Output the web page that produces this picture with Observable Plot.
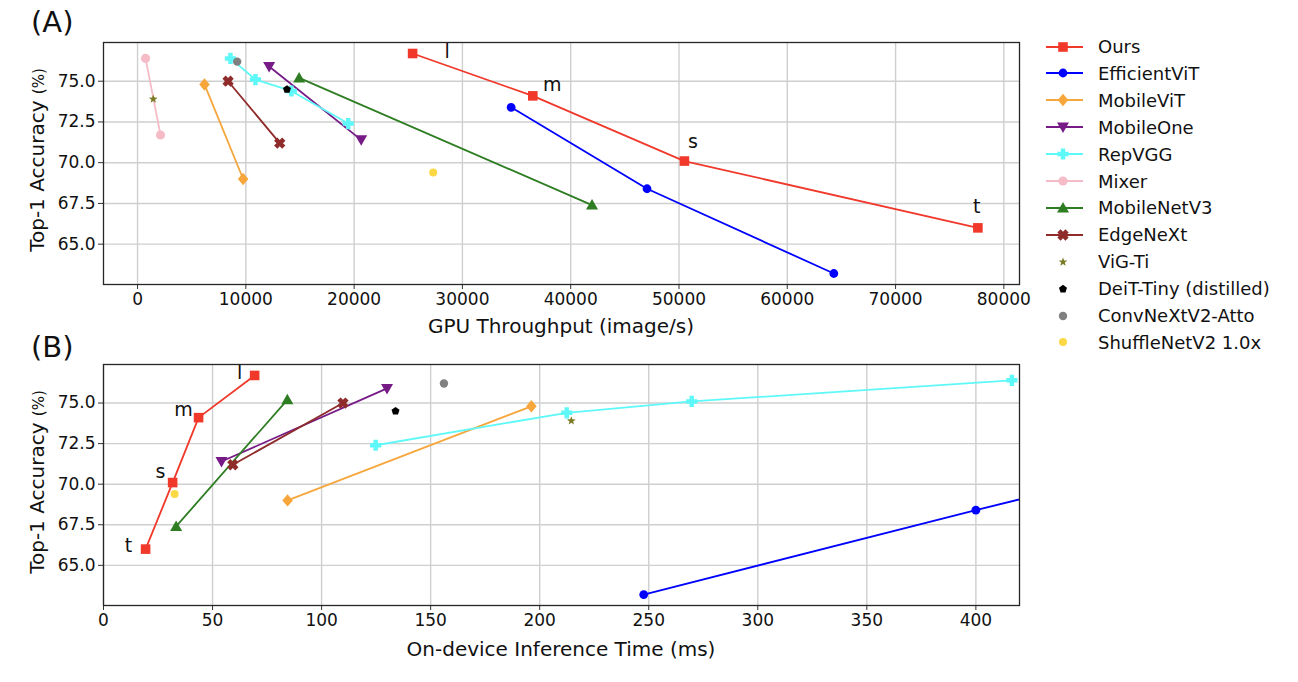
<!DOCTYPE html>
<html>
<head>
<meta charset="utf-8">
<script src="https://cdn.jsdelivr.net/npm/d3@7"></script>
<script src="https://cdn.jsdelivr.net/npm/@observablehq/plot@0.6"></script>
<style>
  body { margin: 0; background: #fff; font-family: "DejaVu Sans", sans-serif; color: #111; }
  #fig { position: relative; width: 1298px; height: 682px; overflow: hidden; background: #fff; }
  .abs { position: absolute; white-space: nowrap; }
  .panel-tag { font-size: 29px; }
  .xtitle { font-size: 20px; transform: translate(-50%, -50%); }
  .ytitle { font-size: 20px; transform: translate(-50%, -50%) rotate(-90deg); }
  .ytitle span { font-size: 15px; }
  .leg-row { position: absolute; left: 1040px; height: 26px; display: flex; align-items: center; font-size: 18px; }
  .leg-row svg { width: 58px; height: 26px; }
</style>
</head>
<body>
<div id="fig"></div>
<script>
// ---- Data: Top-1 accuracy (%) vs GPU throughput (image/s) and on-device latency (ms) ----
const oursSize = ["l", "m", "s", "t"];
const oursAcc = [76.7, 74.1, 70.1, 66.0];
const oursGpu = [25400, 36500, 50500, 77600];
const oursMs = [69.3, 43.6, 31.7, 19.3];
// where the size letters are written (data coordinates)
const oursLabelGpu = [28600, 38300, 51300, 77500];
const oursLabelAccA = [76.8, 74.8, 71.3, 67.3];
const oursLabelMs = [62.4, 36.7, 26.1, 11.5];
const oursLabelAccB = [76.85, 74.6, 70.75, 66.2];

const effAcc = [73.4, 68.4, 63.2];
const effGpu = [34500, 47050, 64300];
const effMs = [550, 400, 247.7];

const mvitAcc = [74.8, 69.0];
const mvitGpu = [6180, 9750];
const mvitMs = [196.2, 84.4];

const moneAcc = [75.9, 71.4];
const moneGpu = [12150, 20650];
const moneMs = [130.0, 54.1];

const repAcc = [76.4, 75.1, 74.4, 72.4];
const repGpu = [8580, 10890, 14200, 19460];
const repMs = [416.5, 269.7, 212.4, 124.8];

const mixAcc = [76.4, 71.7];
const mixGpu = [740, 2120];

const mnv3Acc = [75.2, 67.4];
const mnv3Gpu = [14920, 41970];
const mnv3Ms = [84.3, 33.3];

const edgeAcc = [75.0, 71.2];
const edgeGpu = [8360, 13130];
const edgeMs = [109.8, 59.3];

const vigAcc = [73.9], vigGpu = [1450], vigMs = [214.5];
const deitAcc = [74.5], deitGpu = [13800], deitMs = [133.9];
const cnxAcc = [76.2], cnxGpu = [9200], cnxMs = [156.1];
const shufAcc = [69.4], shufGpu = [27300], shufMs = [32.6];

const gpuTicks = [0, 10000, 20000, 30000, 40000, 50000, 60000, 70000, 80000];
const msTicks = [0, 50, 100, 150, 200, 250, 300, 350, 400];
const accTicks = [65.0, 67.5, 70.0, 72.5, 75.0];

// ---- Marker shapes (size -> radius) ----
const mk = f => ({draw(c, size) { f(c, Math.sqrt(size / Math.PI)); }});
const poly = (c, pts) => { c.moveTo(pts[0][0], pts[0][1]); for (const p of pts.slice(1)) c.lineTo(p[0], p[1]); c.closePath(); };
const symSquare = mk((c, r) => c.rect(-r, -r, 2 * r, 2 * r));
const symCircle = mk((c, r) => { c.moveTo(r, 0); c.arc(0, 0, r, 0, 2 * Math.PI); });
const symDiamond = mk((c, r) => poly(c, [[0, -r], [r * 0.85, 0], [0, r], [-r * 0.85, 0]]));
const symTriDown = mk((c, r) => poly(c, [[-r, -r * 0.75], [r, -r * 0.75], [0, r]]));
const symTriUp = mk((c, r) => poly(c, [[-r, r * 0.75], [r, r * 0.75], [0, -r]]));
const plusPts = r => { const t = r * 0.4; return [[-t, -r], [t, -r], [t, -t], [r, -t], [r, t], [t, t], [t, r], [-t, r], [-t, t], [-r, t], [-r, -t], [-t, -t]]; };
const rot = (pts, a) => pts.map(([x, y]) => [x * Math.cos(a) - y * Math.sin(a), x * Math.sin(a) + y * Math.cos(a)]);
const symPlus = mk((c, r) => poly(c, plusPts(r)));
const symX = mk((c, r) => poly(c, rot(plusPts(r * 1.1), Math.PI / 4)));
const symStar = mk((c, r) => poly(c, d3.range(10).map(i => { const a = -Math.PI / 2 + i * Math.PI / 5, rr = i % 2 ? r * 0.42 : r; return [rr * Math.cos(a), rr * Math.sin(a)]; })));
const symPentagon = mk((c, r) => poly(c, d3.range(5).map(i => { const a = -Math.PI / 2 + i * 2 * Math.PI / 5; return [r * Math.cos(a), r * Math.sin(a)]; })));

// ---- Series table ----
const series = [
  {name: "Ours", acc: oursAcc, gpu: oursGpu, ms: oursMs, color: "#f0382b", symbol: symSquare, r: 4.8, line: true},
  {name: "EfficientViT", acc: effAcc, gpu: effGpu, ms: effMs, color: "#0000ff", symbol: symCircle, r: 4.4, line: true},
  {name: "MobileViT", acc: mvitAcc, gpu: mvitGpu, ms: mvitMs, color: "#f6a63b", symbol: symDiamond, r: 6.2, line: true},
  {name: "MobileOne", acc: moneAcc, gpu: moneGpu, ms: moneMs, color: "#761a86", symbol: symTriDown, r: 6.0, line: true},
  {name: "RepVGG", acc: repAcc, gpu: repGpu, ms: repMs, color: "#5ff8f8", symbol: symPlus, r: 5.6, line: true},
  {name: "Mixer", acc: mixAcc, gpu: mixGpu, ms: null, color: "#f5bcc7", symbol: symCircle, r: 4.6, line: true},
  {name: "MobileNetV3", acc: mnv3Acc, gpu: mnv3Gpu, ms: mnv3Ms, color: "#2e7d23", symbol: symTriUp, r: 6.0, line: true},
  {name: "EdgeNeXt", acc: edgeAcc, gpu: edgeGpu, ms: edgeMs, color: "#8f2b2b", symbol: symX, r: 5.2, line: true},
  {name: "ViG-Ti", acc: vigAcc, gpu: vigGpu, ms: vigMs, color: "#7b7a25", symbol: symStar, r: 4.6, line: false},
  {name: "DeiT-Tiny (distilled)", acc: deitAcc, gpu: deitGpu, ms: deitMs, color: "#000000", symbol: symPentagon, r: 4.2, line: false},
  {name: "ConvNeXtV2-Atto", acc: cnxAcc, gpu: cnxGpu, ms: cnxMs, color: "#808080", symbol: symCircle, r: 4.2, line: false},
  {name: "ShuffleNetV2 1.0x", acc: shufAcc, gpu: shufGpu, ms: shufMs, color: "#fcd845", symbol: symCircle, r: 4.0, line: false}
];

function panel({key, xDomain, xTicks, top, height, marginTop, marginBottom, labels}) {
  const marks = [
    Plot.gridX(xTicks, {stroke: "#cfcfcf", strokeOpacity: 1, strokeWidth: 1.4}),
    Plot.gridY(accTicks, {stroke: "#cfcfcf", strokeOpacity: 1, strokeWidth: 1.4})
  ];
  for (const s of series) {
    if (!s[key]) continue;
    const rows = s.acc.map((a, i) => ({v: s[key][i], acc: a}));
    if (s.line) marks.push(Plot.line(rows, {x: "v", y: "acc", stroke: s.color, strokeWidth: 1.8, clip: true}));
    marks.push(Plot.dot(rows, {x: "v", y: "acc", fill: s.color, stroke: "none", symbol: s.symbol, r: s.r, clip: true}));
  }
  marks.push(Plot.text(labels, {x: "x", y: "y", text: "t", fontSize: 19, fill: "#111", textAnchor: "middle", lineAnchor: "middle"}));
  marks.push(Plot.axisX(xTicks, {tickSize: 5, tickPadding: 3, fontSize: 17, label: null, tickFormat: d => String(d), stroke: "#333"}));
  marks.push(Plot.axisY(accTicks, {tickSize: 5, tickPadding: 3, fontSize: 17, label: null, tickFormat: d => d.toFixed(1), stroke: "#333"}));
  marks.push(Plot.frame({stroke: "#262626", strokeWidth: 1.3}));
  const svg = Plot.plot({
    width: 1030, height,
    marginLeft: 103, marginRight: 11, marginTop, marginBottom,
    style: {fontFamily: "DejaVu Sans", fontSize: "17px", color: "#111", background: "transparent", overflow: "visible"},
    x: {domain: xDomain},
    y: {domain: [62.525, 77.375]},
    marks
  });
  const holder = document.createElement("div");
  holder.className = "abs";
  holder.style.left = "0px";
  holder.style.top = top + "px";
  holder.appendChild(svg);
  return holder;
}

const fig = document.getElementById("fig");

fig.appendChild(panel({
  key: "gpu", xDomain: [-3145, 81445], xTicks: gpuTicks, top: 0, height: 340, marginTop: 42, marginBottom: 56,
  labels: oursSize.map((t, i) => ({t, x: oursLabelGpu[i], y: oursLabelAccA[i]}))
}));
fig.appendChild(panel({
  key: "ms", xDomain: [0, 420], xTicks: msTicks, top: 340, height: 342, marginTop: 24, marginBottom: 77,
  labels: oursSize.map((t, i) => ({t, x: oursLabelMs[i], y: oursLabelAccB[i]}))
}));

// Panel tags and axis titles
function addText(html, cls, x, y) {
  const d = document.createElement("div");
  d.className = "abs " + cls;
  d.style.left = x + "px";
  d.style.top = y + "px";
  d.innerHTML = html;
  fig.appendChild(d);
}
addText("(A)", "panel-tag", 31, 5);
addText("(B)", "panel-tag", 31, 330);
addText("GPU Throughput (image/s)", "xtitle", 561, 326);
addText("On-device Inference Time (ms)", "xtitle", 561, 649);
addText("Top-1 Accuracy <span>(%)</span>", "ytitle", 37, 160);
addText("Top-1 Accuracy <span>(%)</span>", "ytitle", 37, 482);

// Legend
series.forEach((s, i) => {
  const row = document.createElement("div");
  row.className = "leg-row";
  row.style.top = (46.5 + 26.9 * i - 13) + "px";
  const sw = d3.create("svg").attr("width", 58).attr("height", 26);
  if (s.line) sw.append("line").attr("x1", 6).attr("x2", 43).attr("y1", 13).attr("y2", 13)
    .attr("stroke", s.color).attr("stroke-width", 1.8);
  sw.append("path").attr("transform", "translate(23,13)")
    .attr("d", d3.symbol(s.symbol, Math.PI * s.r * s.r)()).attr("fill", s.color);
  row.appendChild(sw.node());
  const label = document.createElement("span");
  label.textContent = s.name;
  row.appendChild(label);
  fig.appendChild(row);
});
</script>
</body>
</html>
